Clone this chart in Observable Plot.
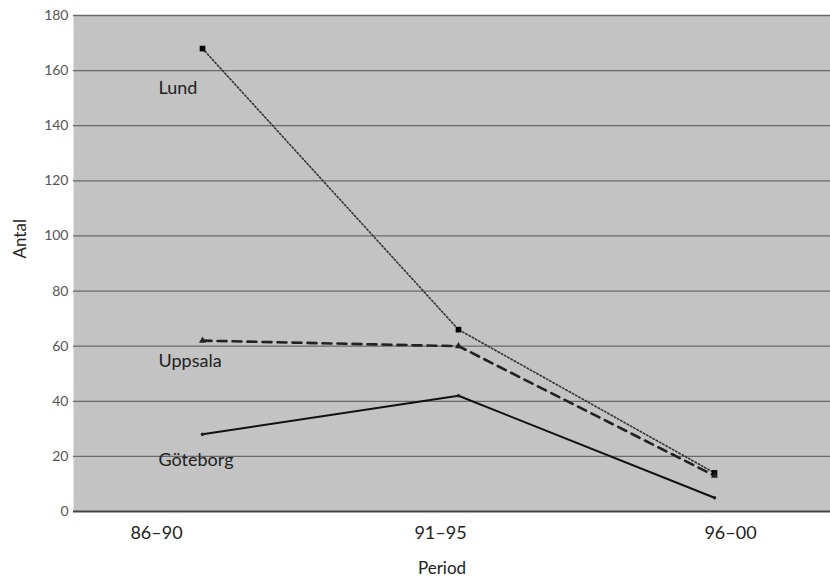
<!DOCTYPE html>
<html><head><meta charset="utf-8">
<script src="https://cdn.jsdelivr.net/npm/d3@7"></script>
<script src="https://cdn.jsdelivr.net/npm/@observablehq/plot@0.6"></script>
<style>body{margin:0;background:#fff;} svg{display:block;}</style>
</head><body><div id="chart"></div>
<script>
const periods = ["86–90", "91–95", "96–00"];
const lund = [168, 66, 14];
const uppsala = [62, 60, 13];
const goteborg = [28, 42, 5];
const seriesNames = ["Lund", "Uppsala", "Göteborg"];
const labelValues = [153.5, 54.4, 18.5];
const yTicks = [0, 20, 40, 60, 80, 100, 120, 140, 160, 180];

const rows = (vals, name) => periods.map((p, i) => ({period: p, value: vals[i], series: name}));
const L = rows(lund, "Lund"), U = rows(uppsala, "Uppsala"), G = rows(goteborg, "Göteborg");
const labels = seriesNames.map((s, i) => ({period: periods[0], value: labelValues[i], name: s}));

const font = "Lato, 'Open Sans', sans-serif";
const xLabelShift = [-46, -18, 16];
const chart = Plot.plot({
  width: 830, height: 577,
  marginLeft: 73, marginRight: 0, marginTop: 15, marginBottom: 66,
  style: {fontFamily: font, background: "#fff"},
  x: {type: "band", domain: periods, range: [72.5, 843], padding: 0},
  y: {domain: [0, 180], ticks: yTicks},
  marks: [
    Plot.frame({fill: "#c3c3c3", stroke: null}),
    Plot.gridY(yTicks.filter(d => d > 0), {stroke: "#6a6a6a", strokeOpacity: 1, strokeWidth: 1.3}),
    Plot.ruleY([0], {stroke: "#444", strokeWidth: 2}),
    Plot.ruleX([0], {x: () => 0, stroke: "#444", strokeWidth: 2}),
    Plot.axisY({ticks: yTicks, tickSize: 0, tickPadding: 5, fontSize: 14, color: "#555", label: null}),
    ...periods.map((p, i) => Plot.axisX({ticks: [p], tickSize: 0, tickPadding: 15, fontSize: 18,
      color: "#222", dx: xLabelShift[i], label: null})),
    Plot.text(["Period"], {frameAnchor: "bottom", dx: -10, dy: 62, fontSize: 17, fill: "#222"}),
    Plot.text(["Antal"], {frameAnchor: "left", rotate: -90, dx: -53, dy: -5, fontSize: 17, fill: "#222"}),
    Plot.line(L, {x: "period", y: "value", stroke: "#333", strokeWidth: 1.6, strokeDasharray: "1.5,2.2"}),
    Plot.line(U, {x: "period", y: "value", stroke: "#222", strokeWidth: 2.6, strokeDasharray: "9,6"}),
    Plot.line(G, {x: "period", y: "value", stroke: "#111", strokeWidth: 2}),
    Plot.dot(L, {x: "period", y: "value", symbol: "square", r: 3.2, fill: "#000"}),
    Plot.dot(U, {x: "period", y: "value", symbol: "triangle", r: 2.6, fill: "#222"}),
    Plot.dot(G, {x: "period", y: "value", symbol: "circle", r: 1.8, fill: "#222"}),
    Plot.text(labels, {x: "period", y: "value", text: "name", textAnchor: "start", dx: -44, fontSize: 18, fill: "#222"})
  ]
});
document.getElementById("chart").appendChild(chart);
</script></body></html>
